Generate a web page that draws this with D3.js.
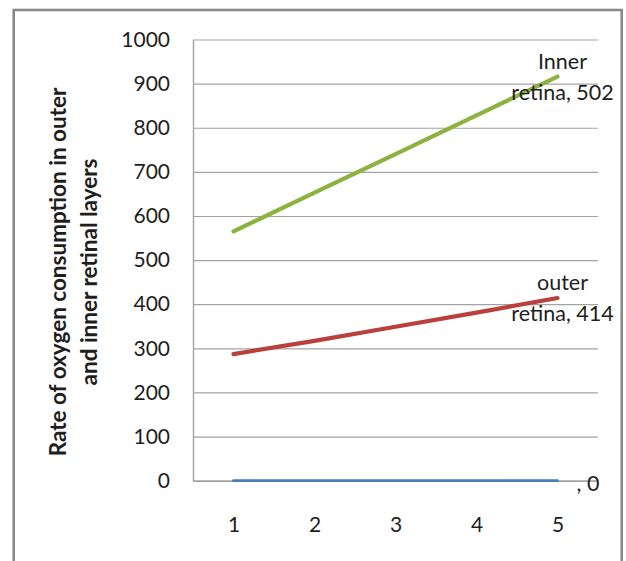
<!DOCTYPE html>
<html>
<head>
<meta charset="utf-8">
<script src="https://cdn.jsdelivr.net/npm/d3@7"></script>
<style>
  body { margin: 0; background: #fff; }
  svg { display: block; }
  text { font-family: Lato, "Open Sans", sans-serif; fill: #1e1e1e; }
</style>
</head>
<body>
<svg id="chart" width="626" height="561"></svg>
<script>
// Categories along the x axis
const categories = [1, 2, 3, 4, 5];

// Stacked series, bottom to top (each value is that layer's own contribution)
const seriesKeys = ["base", "outer", "inner"];
const seriesLabels = ["", "outer retina", "Inner retina"];
const baseValues = [0, 0, 0, 0, 0];
const outerRetina = [287, 317, 349, 381, 414];
const innerRetina = [278, 336, 391, 447, 502];
const seriesColors = ["#4a7ebb", "#b9413d", "#8db23f"];
const seriesWidths = [2.8, 4.2, 4.2];

// Value axis ticks
const yTicks = [0, 100, 200, 300, 400, 500, 600, 700, 800, 900, 1000];

const svg = d3.select("#chart");

// Outer chart frame
svg.append("rect")
  .attr("x", 13.7).attr("y", 10)
  .attr("width", 608).attr("height", 620)
  .attr("fill", "none")
  .attr("stroke", "#8a8a8a")
  .attr("stroke-width", 2.6);

const plot = { left: 193, right: 598, top: 39.5, bottom: 480.7 };

const x = d3.scalePoint()
  .domain(categories)
  .range([plot.left, plot.right])
  .padding(0.5);

const y = d3.scaleLinear()
  .domain([0, 1000])
  .range([plot.bottom, plot.top]);

// Horizontal gridlines
svg.append("g")
  .attr("transform", `translate(${plot.left},0)`)
  .call(d3.axisLeft(y).tickValues(yTicks).tickSize(-(plot.right - plot.left)).tickFormat(""))
  .call(g => g.select(".domain").remove())
  .call(g => g.selectAll(".tick line").attr("stroke", "#a3a3a3").attr("stroke-width", 1.2));

// Y axis line and labels
svg.append("g")
  .attr("transform", `translate(${plot.left},0)`)
  .call(d3.axisLeft(y).tickValues(yTicks).tickFormat(d3.format("d"))
    .tickSize(0).tickSizeOuter(0).tickPadding(23))
  .call(g => g.select(".domain").attr("stroke", "#a3a3a3").attr("stroke-width", 1.4))
  .call(g => g.selectAll(".tick text")
    .attr("font-size", 21)
    .attr("font-family", "Lato, sans-serif")
    .attr("fill", "#1e1e1e"));

// X axis line and labels
svg.append("g")
  .attr("transform", `translate(0,${plot.bottom})`)
  .call(d3.axisBottom(x).tickSize(0).tickSizeOuter(0).tickPadding(51))
  .call(g => g.select(".domain").attr("stroke", "#a3a3a3").attr("stroke-width", 1.4))
  .call(g => g.selectAll(".tick text")
    .attr("font-size", 21)
    .attr("font-family", "Lato, sans-serif")
    .attr("fill", "#1e1e1e")
    .attr("dy", "0"));

// Y axis title (two centred lines, rotated)
const yTitle = svg.append("text")
  .attr("transform", "translate(0,272) rotate(-90)")
  .attr("text-anchor", "middle")
  .attr("font-weight", "bold")
  .attr("font-size", 22.5);
yTitle.append("tspan").attr("x", 0).attr("y", 66).text("Rate of oxygen consumption in outer");
yTitle.append("tspan").attr("x", 0).attr("y", 97).text("and inner retinal layers");

// Stack the series
const rows = categories.map((c, i) => ({
  cat: c, base: baseValues[i], outer: outerRetina[i], inner: innerRetina[i]
}));
const stacked = d3.stack().keys(seriesKeys)(rows);

const line = d3.line()
  .x(d => x(d.data.cat))
  .y(d => y(d[1]));

svg.append("g")
  .selectAll("path")
  .data(stacked)
  .join("path")
  .attr("d", d => line(d))
  .attr("fill", "none")
  .attr("stroke", (d, i) => seriesColors[i])
  .attr("stroke-width", (d, i) => seriesWidths[i])
  .attr("stroke-linecap", "round");

// Data labels at the last category: "series name, value"
const lastIdx = categories.length - 1;
stacked.forEach((s, i) => {
  const pt = s[lastIdx];
  const px = x(pt.data.cat);
  const py = y(pt[1]);
  const value = pt.data[s.key];
  const name = seriesLabels[i];
  if (name) {
    const parts = name.split(" ");
    const t = svg.append("text")
      .attr("text-anchor", "middle")
      .attr("font-size", 21.5);
    t.append("tspan").attr("x", px + 5).attr("y", py - 8).text(parts[0]);
    t.append("tspan").attr("x", px + 5).attr("y", py + 23).text(`${parts.slice(1).join(" ")}, ${value}`);
  } else {
    svg.append("text")
      .attr("x", px + 19)
      .attr("y", py + 10)
      .attr("font-size", 21.5)
      .text(`, ${value}`);
  }
});
</script>
</body>
</html>
